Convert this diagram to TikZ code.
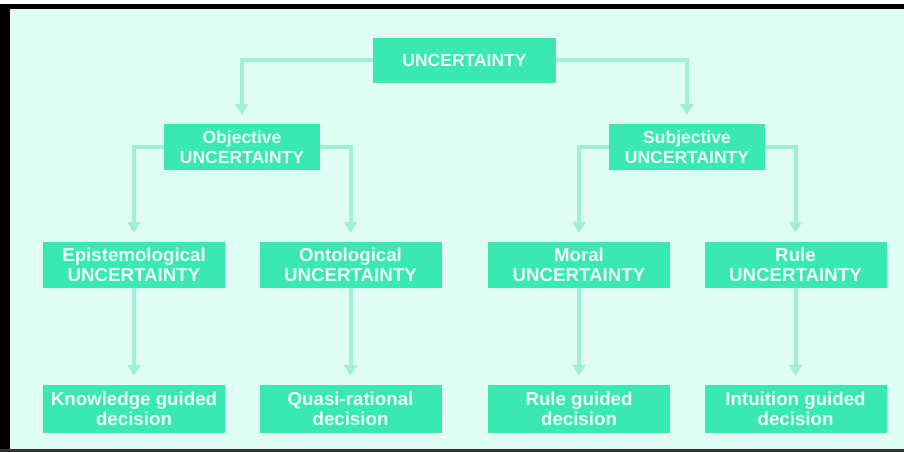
\documentclass[tikz,border=0pt]{standalone}
\usepackage{fontspec}
\setmainfont{Liberation Sans}
\usetikzlibrary{arrows.meta}
\definecolor{bgmint}{RGB}{224,253,243}
\definecolor{boxmint}{RGB}{58,232,178}
\definecolor{linemint}{RGB}{160,241,212}
\definecolor{txtmint}{RGB}{236,255,248}
\tikzset{
  ubox/.style={fill=boxmint, text=txtmint, inner sep=0pt, align=center,
    font=\fontsize{17.5}{20}\selectfont\bfseries},
  wbox/.style={ubox, minimum width=182pt, minimum height=46pt,
    font=\fontsize{18.7}{20.5}\selectfont\bfseries},
  sbox/.style={ubox, minimum width=156pt, minimum height=46pt},
  conn/.style={draw=linemint, line width=4pt,
    -{Triangle[length=11pt,width=13pt]}, shorten >=9pt}
}
\begin{document}
\begin{tikzpicture}[x=1pt,y=-1pt]
\useasboundingbox (0,0) rectangle (904,452);
\fill[white] (0,0) rectangle (904,452);
\fill[bgmint] (10,9) rectangle (904,449);
\fill[black] (0,4) rectangle (904,9);
\fill[black] (0,4) rectangle (10,452);
\fill[black!80] (0,449) rectangle (904,452);

\node[ubox, minimum width=183pt, minimum height=45pt] (top) at (464.5,60.5) {UNCERTAINTY};
\node[sbox] (obj) at (242,147) {Objective\\UNCERTAINTY};
\node[sbox] (subj) at (687,147) {Subjective\\UNCERTAINTY};
\node[wbox] (epi) at (134,265) {Epistemological\\UNCERTAINTY};
\node[wbox] (onto) at (350.5,265) {Ontological\\UNCERTAINTY};
\node[wbox] (moral) at (579,265) {Moral\\UNCERTAINTY};
\node[wbox] (rule) at (795.5,265) {Rule\\UNCERTAINTY};
\node[wbox, minimum height=48pt] (know) at (134,409) {Knowledge guided\\decision};
\node[wbox, minimum height=48pt] (quasi) at (350.5,409) {Quasi-rational\\decision};
\node[wbox, minimum height=48pt] (ruleg) at (579,409) {Rule guided\\decision};
\node[wbox, minimum height=48pt] (intu) at (795.5,409) {Intuition guided\\decision};

\draw[conn] (top.west) -| (obj.north);
\draw[conn] (top.east) -| (subj.north);
\draw[conn] (obj.west) -| (epi.north);
\draw[conn] (obj.east) -| (onto.north);
\draw[conn] (subj.west) -| (moral.north);
\draw[conn] (subj.east) -| (rule.north);
\draw[conn] (epi.south) -- (know.north);
\draw[conn] (onto.south) -- (quasi.north);
\draw[conn] (moral.south) -- (ruleg.north);
\draw[conn] (rule.south) -- (intu.north);
\end{tikzpicture}
\end{document}
